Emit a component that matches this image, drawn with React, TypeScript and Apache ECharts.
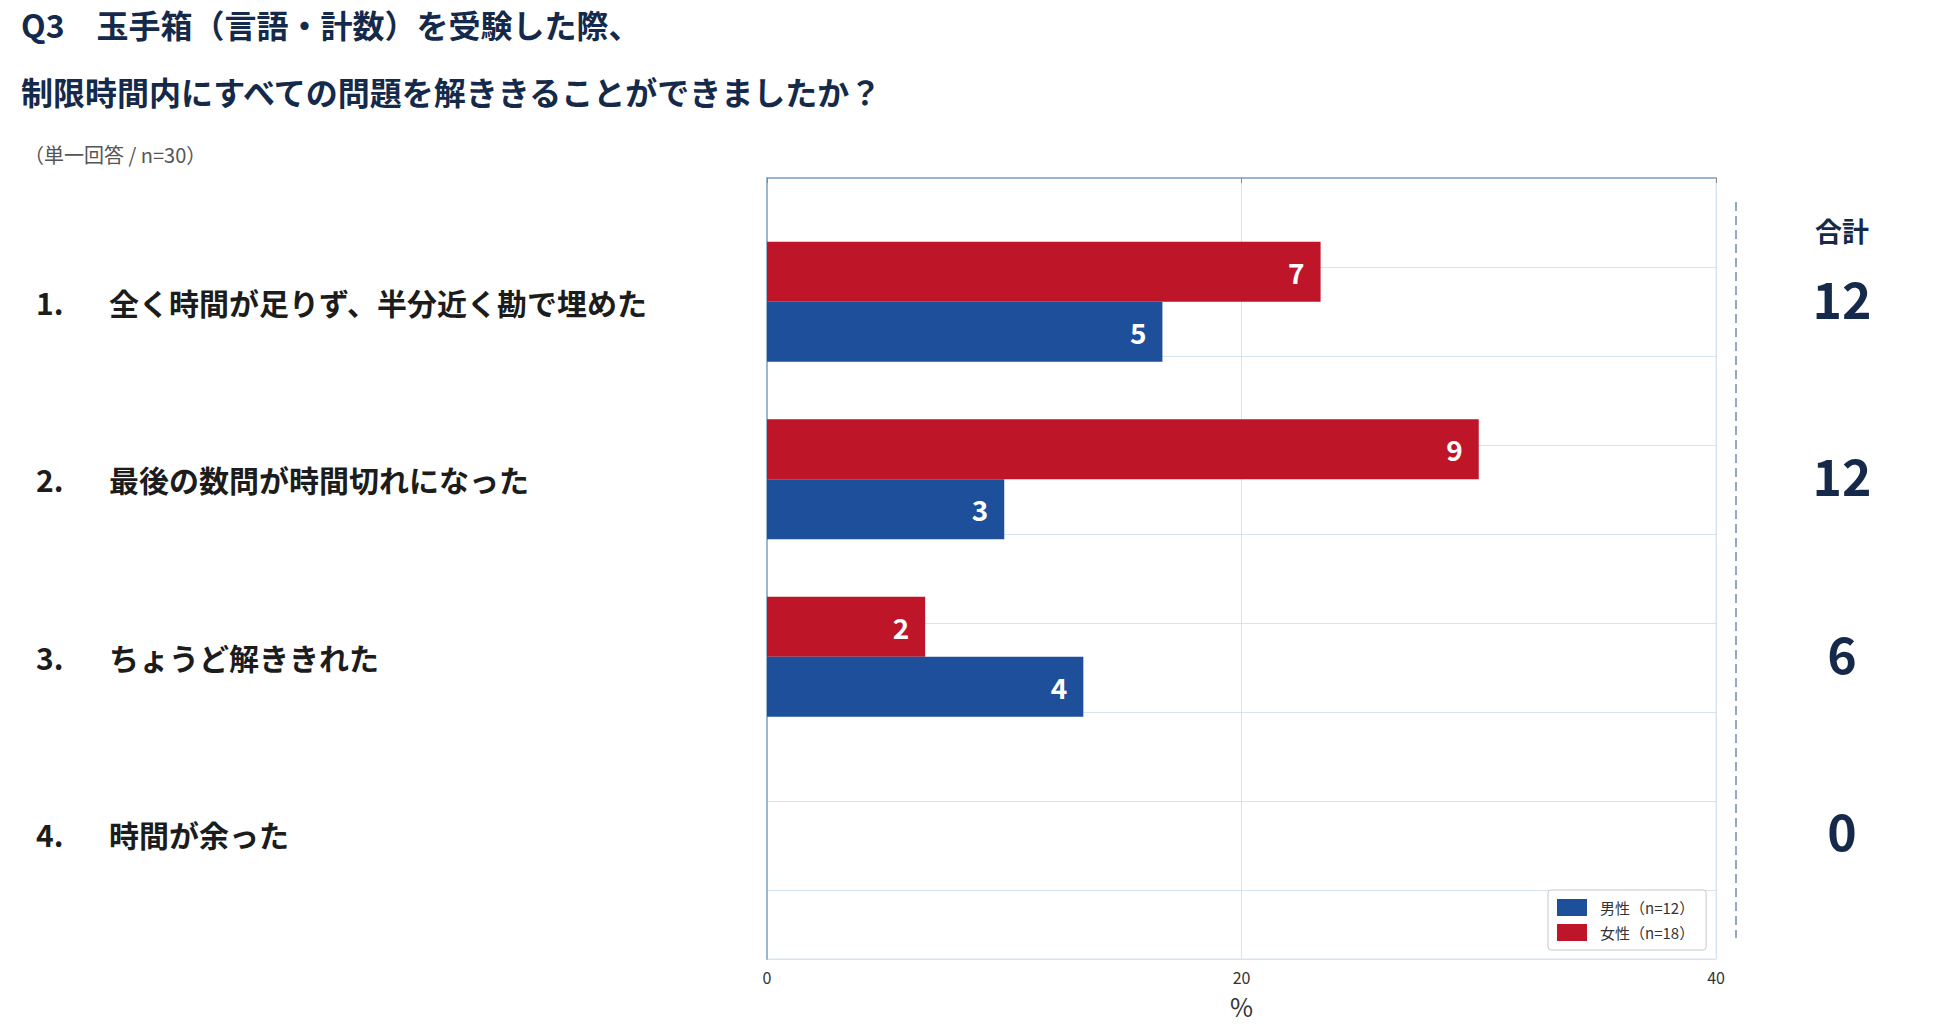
import React, { useEffect, useRef } from 'react';
import * as echarts from 'echarts';

const TOTAL_N = 30;
const TITLE_LINES = ['Q3　玉手箱（言語・計数）を受験した際、', '制限時間内にすべての問題を解ききることができましたか？'];
const SUBTITLE = '（単一回答 / n=30）';
const CATEGORY_NO = ['1.', '2.', '3.', '4.'];
const CATEGORIES = [
  '全く時間が足りず、半分近く勘で埋めた',
  '最後の数問が時間切れになった',
  'ちょうど解ききれた',
  '時間が余った',
];
const MALE_COUNTS = [5, 3, 4, 0];
const FEMALE_COUNTS = [7, 9, 2, 0];
const SERIES_NAMES = ['男性（n=12）', '女性（n=18）'];
const X_TICKS = [0, 20, 40];

const COLORS = {
  NAVY: '#15294a',
  TEXT: '#1c1c1c',
  AXIS_TEXT: '#333333',
  MALE: '#1d4f9a',
  FEMALE: '#be1529',
  GRID: '#d6e4f0',
  AXIS: '#9bb6d2',
  DASH: '#8fa8c6',
};

const FONT = '"Noto Sans CJK JP", "Noto Sans", sans-serif';

const totals = CATEGORIES.map((_, i) => String(MALE_COUNTS[i] + FEMALE_COUNTS[i]));
const toPct = (c: number) => (c / TOTAL_N) * 100;

const App: React.FC = () => {
  const divEL = useRef<HTMLDivElement>(null);

  useEffect(() => {
    const instance = echarts.init(divEL.current as any, null, { renderer: 'svg' });

    const option: any = {
      animation: false,
      textStyle: { fontFamily: FONT },
      title: [
        {
          text: TITLE_LINES[0],
          left: 21,
          top: 3,
          padding: 0,
          textStyle: { fontFamily: FONT, fontSize: 32, fontWeight: 'bold', color: COLORS.NAVY, lineHeight: 42 },
        },
        {
          text: TITLE_LINES[1],
          left: 21,
          top: 70,
          padding: 0,
          textStyle: { fontFamily: FONT, fontSize: 32, fontWeight: 'bold', color: COLORS.NAVY, lineHeight: 42 },
        },
        {
          text: SUBTITLE,
          left: 24,
          top: 141,
          padding: 0,
          textStyle: { fontFamily: FONT, fontSize: 20, fontWeight: 'normal', color: '#555555', lineHeight: 26 },
        },
      ],
      legend: {
        orient: 'vertical',
        left: 1548,
        top: 890,
        width: 160,
        padding: [9, 12, 9, 9],
        itemWidth: 30,
        itemHeight: 17,
        itemGap: 8,
        icon: 'rect',
        borderColor: '#c8c8c8',
        borderWidth: 1,
        borderRadius: 3,
        backgroundColor: '#ffffff',
        data: SERIES_NAMES,
        textStyle: { fontFamily: FONT, fontSize: 15, color: COLORS.AXIS_TEXT, padding: [0, 0, 0, 8] },
      },
      grid: [
        {
          left: 767,
          top: 178,
          width: 949,
          height: 781,
          show: true,
          borderColor: COLORS.GRID,
          borderWidth: 1,
          backgroundColor: 'transparent',
        },
        { left: 767, top: 213, width: 949, height: 710 },
      ],
      xAxis: [
        {
          type: 'value',
          gridIndex: 0,
          min: X_TICKS[0],
          max: X_TICKS[X_TICKS.length - 1],
          interval: X_TICKS[1] - X_TICKS[0],
          name: '%',
          nameLocation: 'middle',
          nameGap: 34,
          nameTextStyle: { fontFamily: FONT, fontSize: 25, color: COLORS.AXIS_TEXT },
          axisLine: { show: true, lineStyle: { color: COLORS.AXIS, width: 2 } },
          axisTick: { show: true, length: 5, lineStyle: { color: '#888888' } },
          axisLabel: { fontFamily: FONT, fontSize: 16, color: COLORS.AXIS_TEXT, margin: 10 },
          splitLine: { show: true, lineStyle: { color: COLORS.GRID, width: 1 } },
        },
        {
          type: 'value',
          gridIndex: 1,
          min: X_TICKS[0],
          max: X_TICKS[X_TICKS.length - 1],
          show: false,
        },
      ],
      yAxis: [
        {
          type: 'value',
          gridIndex: 0,
          inverse: true,
          min: 0,
          max: 8.775,
          interval: 1,
          axisLine: { show: true, lineStyle: { color: COLORS.AXIS, width: 2 } },
          axisTick: { show: false },
          axisLabel: { show: false },
          splitLine: { show: true, lineStyle: { color: COLORS.GRID, width: 1 } },
        },
        {
          type: 'category',
          gridIndex: 1,
          inverse: true,
          data: CATEGORIES,
          axisLine: { show: false },
          axisTick: { show: false },
          splitLine: { show: false },
          axisLabel: {
            show: true,
            align: 'left',
            margin: 731,
            formatter: (v: string, i: number) => `{n|${CATEGORY_NO[i]}}{t|${v}}`,
            rich: {
              n: { width: 73, fontFamily: FONT, fontSize: 30, fontWeight: 'bold', color: COLORS.TEXT },
              t: { fontFamily: FONT, fontSize: 30, fontWeight: 'bold', color: COLORS.TEXT },
            },
          },
        },
        {
          type: 'category',
          gridIndex: 1,
          position: 'right',
          inverse: true,
          data: totals,
          axisLine: { show: false },
          axisTick: { show: false },
          splitLine: { show: false },
          axisLabel: {
            show: true,
            align: 'center',
            verticalAlign: 'bottom',
            lineHeight: 10,
            margin: 126,
            fontFamily: FONT,
            fontSize: 50,
            fontWeight: 'bold',
            color: COLORS.NAVY,
          },
        },
      ],
      series: [
        {
          name: SERIES_NAMES[1],
          type: 'bar',
          xAxisIndex: 1,
          yAxisIndex: 1,
          barWidth: 60,
          barGap: '0%',
          itemStyle: { color: COLORS.FEMALE },
          data: FEMALE_COUNTS.map(toPct),
          label: {
            show: true,
            position: 'insideRight',
            distance: 16,
            fontFamily: FONT,
            fontSize: 28,
            fontWeight: 'bold',
            color: '#ffffff',
            formatter: (p: any) => (FEMALE_COUNTS[p.dataIndex] > 0 ? String(FEMALE_COUNTS[p.dataIndex]) : ''),
          },
        },
        {
          name: SERIES_NAMES[0],
          type: 'bar',
          xAxisIndex: 1,
          yAxisIndex: 1,
          barWidth: 60,
          barGap: '0%',
          itemStyle: { color: COLORS.MALE },
          data: MALE_COUNTS.map(toPct),
          label: {
            show: true,
            position: 'insideRight',
            distance: 16,
            fontFamily: FONT,
            fontSize: 28,
            fontWeight: 'bold',
            color: '#ffffff',
            formatter: (p: any) => (MALE_COUNTS[p.dataIndex] > 0 ? String(MALE_COUNTS[p.dataIndex]) : ''),
          },
        },
      ],
      graphic: [
        {
          type: 'line',
          shape: { x1: 1736, y1: 202, x2: 1736, y2: 938 },
          style: { stroke: COLORS.DASH, lineWidth: 2, lineDash: [9, 5] },
        },
        {
          type: 'text',
          x: 1842,
          y: 230,
          style: {
            text: '合計',
            font: `bold 27px ${FONT}`,
            fill: COLORS.NAVY,
            textAlign: 'center',
            textVerticalAlign: 'middle',
          },
        },
      ],
    };

    instance.setOption(option);

    return () => {
      instance.dispose();
    };
  }, []);

  return (
    <div
      ref={divEL}
      style={{ position: 'fixed', left: 0, top: 0, width: 1950, height: 1032, background: '#ffffff' }}
    ></div>
  );
};

export default App;
